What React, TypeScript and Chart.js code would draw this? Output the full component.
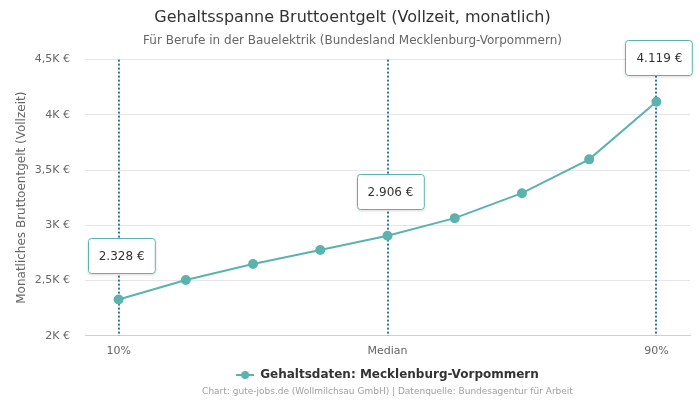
import React, { useEffect, useRef } from "react";
import { Chart, registerables } from "chart.js";

Chart.register(...registerables);

const categories = ["10%", "20%", "30%", "40%", "Median", "60%", "70%", "80%", "90%"];
const shownTicks = ["10%", "", "", "", "Median", "", "", "", "90%"];
const salaries = [2328, 2505, 2650, 2776, 2906, 3065, 3291, 3597, 4119];
const markedIndices = [0, 4, 8];
const yTickValues = [2000, 2500, 3000, 3500, 4000, 4500];
const yTickLabels = ["2K €", "2,5K €", "3K €", "3,5K €", "4K €", "4,5K €"];

const FONT = "'DejaVu Sans', sans-serif";
const TEAL = "#5ab3ad";
const BLUE = "#2f78b6";

const fmt = (v: number) => v.toLocaleString("de-DE") + " €";

function legendMarker() {
  const c = document.createElement("canvas");
  c.width = 18;
  c.height = 10;
  const g = c.getContext("2d")!;
  g.strokeStyle = TEAL;
  g.lineWidth = 2;
  g.beginPath();
  g.moveTo(0, 5);
  g.lineTo(18, 5);
  g.stroke();
  g.fillStyle = TEAL;
  g.beginPath();
  g.arc(9, 5, 4, 0, Math.PI * 2);
  g.fill();
  return c;
}

const markerPlugin = {
  id: "markers",
  beforeDatasetsDraw(chart: any) {
    const { ctx, chartArea } = chart;
    const meta = chart.getDatasetMeta(0);
    ctx.save();
    ctx.strokeStyle = BLUE;
    ctx.lineWidth = 2;
    ctx.setLineDash([2, 2]);
    markedIndices.forEach((i) => {
      const x = Math.round(meta.data[i].x);
      ctx.beginPath();
      ctx.moveTo(x, chartArea.top);
      ctx.lineTo(x, chartArea.bottom);
      ctx.stroke();
    });
    ctx.restore();
  },
  afterDatasetsDraw(chart: any) {
    const { ctx } = chart;
    const meta = chart.getDatasetMeta(0);
    ctx.save();
    ctx.font = `12px ${FONT}`;
    markedIndices.forEach((i) => {
      const pt = meta.data[i];
      const text = fmt(salaries[i]);
      const w = ctx.measureText(text).width + 22;
      const h = 36;
      const cx = pt.x + 3;
      const cy = pt.y - 44;
      const x0 = Math.round(cx - w / 2);
      const y0 = Math.round(cy - h / 2);
      ctx.save();
      ctx.shadowColor = "rgba(0,0,0,0.15)";
      ctx.shadowBlur = 3;
      ctx.shadowOffsetY = 1;
      ctx.beginPath();
      ctx.roundRect(x0, y0, w, h, 3);
      ctx.fillStyle = "#ffffff";
      ctx.fill();
      ctx.restore();
      ctx.beginPath();
      ctx.roundRect(x0 + 0.5, y0 + 0.5, w - 1, h - 1, 3);
      ctx.strokeStyle = TEAL;
      ctx.lineWidth = 1;
      ctx.stroke();
      ctx.fillStyle = "#333333";
      ctx.textAlign = "center";
      ctx.textBaseline = "middle";
      ctx.fillText(text, cx, cy + 1);
    });
    ctx.restore();
  },
  afterDraw(chart: any) {
    const { ctx, chartArea } = chart;
    ctx.save();
    ctx.font = `9px ${FONT}`;
    ctx.fillStyle = "#a0a0a0";
    ctx.textAlign = "center";
    ctx.textBaseline = "middle";
    ctx.fillText(
      "Chart: gute-jobs.de (Wollmilchsau GmbH) | Datenquelle: Bundesagentur für Arbeit",
      (chartArea.left + chartArea.right) / 2,
      392
    );
    ctx.restore();
  },
};

export default function App() {
  const ref = useRef<HTMLCanvasElement>(null);
  useEffect(() => {
    document.body.style.margin = "0";
    const chart = new Chart(ref.current!, {
      type: "line",
      data: {
        labels: categories,
        datasets: [
          {
            label: "Gehaltsdaten: Mecklenburg-Vorpommern",
            data: salaries,
            borderColor: TEAL,
            backgroundColor: TEAL,
            pointBackgroundColor: TEAL,
            pointBorderColor: TEAL,
            borderWidth: 2,
            pointRadius: 4,
            tension: 0,
            pointStyle: "circle",
          },
        ],
      },
      options: {
        animation: false,
        responsive: false,
        maintainAspectRatio: false,
        layout: { padding: { left: 15, right: 10, top: 0, bottom: 9 } },
        scales: {
          x: {
            offset: true,
            grid: { display: false, drawTicks: false },
            border: { color: "#ccd0da" },
            ticks: {
              autoSkip: false,
              maxRotation: 0,
              padding: 9,
              color: "#666666",
              font: { family: FONT, size: 11 },
              callback: (_v: any, i: number) => shownTicks[i],
            },
          },
          y: {
            min: 2000,
            max: 4500,
            afterBuildTicks: (axis: any) => {
              axis.ticks = yTickValues.map((v) => ({ value: v }));
            },
            afterFit: (axis: any) => {
              axis.width = 70;
            },
            grid: { color: "#e6e6e6", drawTicks: false },
            border: { display: false },
            ticks: {
              padding: 15,
              color: "#666666",
              font: { family: FONT, size: 11 },
              callback: (v: any) => yTickLabels[yTickValues.indexOf(Number(v))],
            },
            title: {
              display: true,
              text: "Monatliches Bruttoentgelt (Vollzeit)",
              color: "#666666",
              font: { family: FONT, size: 12 },
              padding: { top: 0, bottom: 3 },
            },
          },
        },
        plugins: {
          title: {
            display: true,
            text: "Gehaltsspanne Bruttoentgelt (Vollzeit, monatlich)",
            color: "#333333",
            font: { family: FONT, size: 16, weight: "normal" },
            padding: { top: 8, bottom: 4 },
          },
          subtitle: {
            display: true,
            text: "Für Berufe in der Bauelektrik (Bundesland Mecklenburg-Vorpommern)",
            color: "#666666",
            font: { family: FONT, size: 12 },
            padding: { top: 2, bottom: 12 },
          },
          legend: {
            position: "bottom",
            fullSize: false,
            labels: {
              usePointStyle: true,
              pointStyle: legendMarker(),
              pointStyleWidth: 18,
              color: "#333333",
              font: { family: FONT, size: 12, weight: "bold" },
              padding: 2,
            },
          },
          tooltip: { enabled: false },
        },
      },
      plugins: [markerPlugin],
    });
    return () => chart.destroy();
  }, []);
  return <canvas ref={ref} width={700} height={400} style={{ display: "block" }} />;
}
